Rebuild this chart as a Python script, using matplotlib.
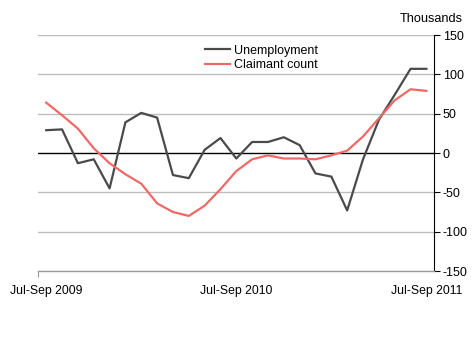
import matplotlib
matplotlib.use("Agg")
import matplotlib.pyplot as plt
import numpy as np

plt.rcParams["font.family"] = ["Liberation Sans", "DejaVu Sans"]

# rolling quarters, Jul-Sep 2009 .. Jul-Sep 2011 (thousands, change on quarter)
periods = ["Jul-Sep 2009", "Aug-Oct 2009", "Sep-Nov 2009", "Oct-Dec 2009", "Nov-Jan 2010",
           "Dec-Feb 2010", "Jan-Mar 2010", "Feb-Apr 2010", "Mar-May 2010", "Apr-Jun 2010",
           "May-Jul 2010", "Jun-Aug 2010", "Jul-Sep 2010", "Aug-Oct 2010", "Sep-Nov 2010",
           "Oct-Dec 2010", "Nov-Jan 2011", "Dec-Feb 2011", "Jan-Mar 2011", "Feb-Apr 2011",
           "Mar-May 2011", "Apr-Jun 2011", "May-Jul 2011", "Jun-Aug 2011", "Jul-Sep 2011"]
unemployment = [29, 30, -13, -8, -45, 39, 51, 45, -28, -32, 4, 19, -7,
                14, 14, 20, 10, -26, -30, -73, -8, 42, 74, 107, 107]
claimant = [64, 48, 31, 6, -13, -27, -39, -64, -75, -80, -67, -46, -23,
            -8, -3, -7, -7, -8, -3, 3, 21, 44, 67, 81, 79]
xtick_labels = ["Jul-Sep 2009", "Jul-Sep 2010", "Jul-Sep 2011"]
yticks = [-150, -100, -50, 0, 50, 100, 150]

fig = plt.figure(figsize=(4.72, 3.38), dpi=100)
ax = fig.add_axes([38.3 / 472, 1 - 271 / 338, (434.3 - 38.3) / 472, (271 - 35) / 338])

x = np.arange(len(periods))
ax.plot(x, unemployment, color="#4a4a4a", lw=1.6, label="Unemployment", zorder=3)
ax.plot(x, claimant, color="#f06868", lw=1.6, label="Claimant count", zorder=3)

ax.set_xlim(-0.5, len(periods) - 0.5)
ax.set_ylim(-150, 150)

# gridlines and zero line
for v in yticks:
    if v == 0:
        ax.axhline(0, color="black", lw=1.0, zorder=2)
    elif v != -150:
        ax.axhline(v, color="#bdbdbd", lw=1.0, zorder=1)

ax.yaxis.tick_right()
ax.set_yticks(yticks)
ax.set_yticklabels([str(v) for v in yticks])
ax.tick_params(axis="y", direction="out", length=4, width=0.8, color="black",
               labelsize=9, pad=2)

ax.set_xticks([-0.5])
ax.set_xticklabels([""])
ax.tick_params(axis="x", direction="out", length=4, width=0.8, color="#999999")
for i, lab in zip([0, 12, 24], xtick_labels):
    ax.text(i, -0.06, lab, transform=ax.get_xaxis_transform(), ha="center",
            va="top", fontsize=8.8)

for s in ["top", "left"]:
    ax.spines[s].set_visible(False)
ax.spines["right"].set_color("black")
ax.spines["right"].set_linewidth(0.8)
ax.spines["bottom"].set_color("#999999")
ax.spines["bottom"].set_linewidth(1.0)

fig.text(463 / 472, 1 - 19 / 338, "Thousands", ha="right", va="center", fontsize=9.2)

ax.legend(loc="upper left", bbox_to_anchor=(0.405, 0.985), frameon=False, fontsize=9,
          handlelength=2.0, handletextpad=0.3, labelspacing=0.2, borderpad=0)

fig.savefig("out.png", dpi=100, facecolor="white")
